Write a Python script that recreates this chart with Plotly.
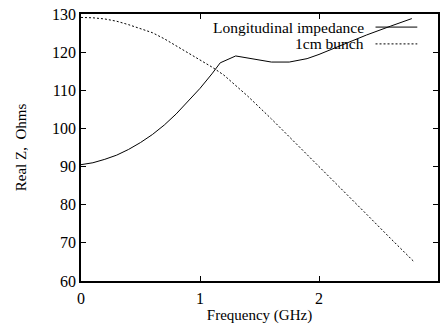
import plotly.graph_objects as go

# Frequency grid (GHz) and real part of the longitudinal impedance (Ohms)
freq_impedance = [0.0, 0.1, 0.2, 0.3, 0.4, 0.5, 0.6, 0.7, 0.8, 0.9, 1.0, 1.1,
                  1.17, 1.3, 1.45, 1.6, 1.75, 1.9, 2.0, 2.2, 2.4, 2.6, 2.78]
z_impedance = [90.5, 91.0, 91.9, 93.0, 94.5, 96.3, 98.4, 100.9, 103.8, 107.2,
               110.5, 114.3, 117.2, 119.0, 118.2, 117.4, 117.4, 118.3, 119.4,
               122.0, 124.5, 126.8, 128.8]

# Bunch spectrum of a 1 cm bunch, on the same vertical scale
freq_bunch = [0.0, 0.1, 0.2, 0.3, 0.4, 0.5, 0.6, 0.7, 0.8, 0.9, 1.0, 1.1, 1.2,
              1.4, 1.6, 1.8, 2.0, 2.2, 2.4, 2.6, 2.8]
z_bunch = [129.1, 129.0, 128.7, 128.1, 127.2, 126.2, 125.1, 123.5, 121.7,
           119.9, 118.0, 116.1, 114.0, 108.5, 102.5, 96.3, 90.0, 83.8, 77.5,
           71.2, 65.0]

series_names = ["Longitudinal impedance", "1cm bunch"]
x_ticks = [0, 1, 2]
y_ticks = [60, 70, 80, 90, 100, 110, 120, 130]

FONT = "Liberation Serif"

fig = go.Figure()
fig.add_trace(go.Scatter(x=freq_impedance, y=z_impedance, mode="lines",
                         name=series_names[0],
                         line=dict(color="black", width=1)))
fig.add_trace(go.Scatter(x=freq_bunch, y=z_bunch, mode="lines",
                         name=series_names[1],
                         line=dict(color="black", width=1, dash="2px,2px")))

# Key in the upper right: right-aligned labels followed by line samples
legend_rows = [(0.951, "solid"), (0.888, "2px,2px")]
for (ypos, dash), label in zip(legend_rows, series_names):
    fig.add_annotation(x=0.797, y=ypos, xref="paper", yref="paper",
                       text=label, showarrow=False, xanchor="right",
                       yanchor="middle", font=dict(family=FONT, size=15.5,
                                                   color="black"))
    fig.add_shape(type="line", xref="paper", yref="paper",
                  x0=0.825, x1=0.942, y0=ypos, y1=ypos,
                  line=dict(color="black", width=1, dash=dash))

axis_common = dict(
    showline=True, linecolor="black", linewidth=1.5, mirror="ticks",
    ticks="inside", ticklen=5, tickwidth=1, tickcolor="black",
    showgrid=False, zeroline=False,
    tickfont=dict(family=FONT, size=16, color="black"),
)

fig.update_xaxes(range=[0, 3], tickvals=x_ticks, ticklabelstandoff=2,
                 title=dict(text="Frequency (GHz)", standoff=6,
                            font=dict(family=FONT, size=15, color="black")),
                 **axis_common)
fig.update_yaxes(range=[60, 130], tickvals=y_ticks,
                 title=dict(text="Real Z,  Ohms", standoff=22,
                            font=dict(family=FONT, size=15, color="black")),
                 **axis_common)

fig.update_layout(
    width=441, height=324,
    margin=dict(l=81, r=1, t=14, b=42),
    paper_bgcolor="white", plot_bgcolor="white",
    showlegend=False,
    font=dict(family=FONT, color="black"),
)

fig.write_html("out.html")
